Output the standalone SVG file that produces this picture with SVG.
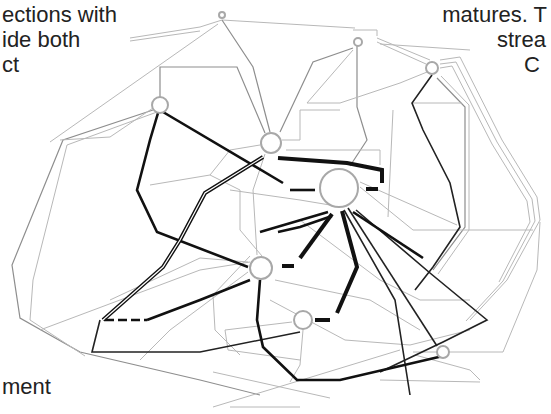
<svg xmlns="http://www.w3.org/2000/svg" width="551" height="414" viewBox="0 0 551 414">
<style>
.t{font-family:"Liberation Sans",Arial,sans-serif;font-size:22px;fill:#222}
.g{fill:none;stroke:#b8b8b8;stroke-width:1}
.m{fill:none;stroke:#8e8e8e;stroke-width:1.2}
.k{fill:none;stroke:#222;stroke-width:1.6}
.kb{fill:none;stroke:#111;stroke-width:2.6}
.kk{fill:none;stroke:#111;stroke-width:4}
.kw{fill:none;stroke:#fff;stroke-width:1.2}
.n{fill:#fff;stroke:#a8a8a8;stroke-width:2}
</style>
<rect width="551" height="414" fill="#fff"/>
<text class="t" x="2" y="22">ections with</text>
<text class="t" x="2" y="47">ide both</text>
<text class="t" x="2" y="72">ct</text>
<text class="t" x="547" y="22" text-anchor="end">matures. T</text>
<text class="t" x="497" y="47">strea</text>
<text class="t" x="524" y="72">C</text>
<text class="t" x="2" y="394">ment</text>
<g id="connectors">
<path class="g" d="M130,38 L200,27 L222,20 M130,41 L200,31"/>
<path class="g" d="M222,20 L355,28"/>
<path class="g" d="M218,24 L50,142"/>
<path class="m" d="M160,97 L160,67 L237,67 L265,133"/>
<path class="m" d="M222,20 L253,67 L270,132"/>
<path class="m" d="M353,48 L313,62 L280,132"/>
<path class="m" d="M357,45 L357,107 L367,140 L350,166"/>
<path class="g" d="M307,103 L340,103 L400,83 M307,103 L353,50"/>
<path class="g" d="M377,38 L430,60 M377,42 L426,64 M380,44 L470,50"/>
<path class="g" d="M377,36 L377,30 L353,30"/>
<path class="g" d="M440,60 L460,57 L502,140 L537,197 L540,220 L507,280 L470,320"/>
<path class="g" d="M440,64 L456,62 L497,142 L532,199 L535,221 L503,281 L466,321"/>
<path class="g" d="M440,68 L452,66 L492,144 L527,201 L530,222 L499,282"/>
<path class="m" d="M437,78 L465,107 L465,227 L433,270"/>
<path class="g" d="M441,76 L469,105 L469,230 L438,274"/>
<path class="g" d="M412,103 L462,103"/>
<path class="g" d="M360,182 L457,225 M360,187 L413,230 L533,230"/>
<path class="g" d="M393,110 L388,217"/>
<path class="g" d="M400,83 L432,70"/>
<path class="m" d="M153,110 L63,140 L12,265 L20,318 L80,352 L200,380 L260,395"/>
<path class="g" d="M157,112 L67,145 L33,280 L30,320 L85,356"/>
<path class="g" d="M60,140 L110,137 L153,108"/>
<path class="g" d="M40,330 L200,270 L250,262"/>
<path class="g" d="M110,300 L200,258 L248,262"/>
<path class="g" d="M260,145 L230,150 L210,175 L150,185"/>
<path class="g" d="M265,154 L253,190 L257,255"/>
<path class="g" d="M250,256 L213,295 L215,330 L240,355"/>
<path class="g" d="M248,272 L170,330 L140,360"/>
<path class="g" d="M213,407 L400,350 M213,372 L330,398 M230,407 L300,407"/>
<path class="g" d="M303,330 L300,365 L290,382"/>
<path class="g" d="M292,322 L225,330 L228,350 L300,360"/>
<path class="g" d="M300,220 L380,280 L420,300 L470,300"/>
<path class="g" d="M270,300 L345,340 L410,345 L470,330"/>
<path class="g" d="M413,352 L503,352 L537,270 L540,222"/>
<path class="g" d="M380,380 L480,382 M415,355 L470,370 L480,380"/>
<path class="g" d="M262,256 L240,230 L240,190 L210,175"/>
<path class="g" d="M282,140 L300,140 L300,110 L340,110"/>
<path class="g" d="M286,150 L380,150 L380,165"/>
<path class="g" d="M230,190 L300,200 L330,205"/>
<path class="g" d="M275,280 L370,300 L420,330"/>
<path class="k" d="M432,75 L412,103 L423,130 L450,183 L460,227 L433,267 L415,290"/>
<path class="k" d="M348,208 L437,346"/>
<path class="k" d="M344,210 L395,300 L410,395"/>
<path class="k" d="M356,210 L430,273 L487,320 L443,342 L380,372"/>
<path class="kb" d="M353,212 L423,258"/>
<path class="kb" d="M163,112 L283,183"/>
<path class="kb" d="M290,190 L315,190"/>
<path class="kk" d="M278,158 L347,163 L382,170 L382,183"/>
<path class="kk" d="M366,189 L378,189"/>
<path class="kb" d="M158,113 L150,140 L137,190 L157,232 L248,267"/>
<path class="kk" d="M263,157 L205,193 L180,240 L163,267 L103,320"/>
<path class="kw" d="M263,157 L205,193 L180,240 L163,267 L103,320"/>
<path class="kb" d="M105,320 L147,320" stroke-dasharray="9,4"/>
<path class="kb" d="M250,280 L200,300 L147,320"/>
<path class="k" d="M100,320 L92,352 L200,352 L300,332"/>
<path class="kb" d="M260,280 L257,320 L263,347 L297,380 L340,380 L443,356"/>
<path class="kb" d="M328,212 L260,232"/>
<path class="kb" d="M332,216 L300,227 L278,232"/>
<path class="kk" d="M332,214 L300,258" stroke-width="5"/>
<path class="kk" d="M282,266 L294,266" stroke-width="5"/>
<path class="kk" d="M342,211 L357,267 L337,313"/>
<path class="kk" d="M315,320 L330,320"/>
</g>
<g id="nodeH"><circle class="n" cx="222" cy="15" r="3" stroke-width="1"/></g>
<g id="nodeG"><circle class="n" cx="358" cy="42" r="4" stroke-width="1"/></g>
<g id="nodeF"><circle class="n" cx="432" cy="68" r="6" stroke-width="1.5"/></g>
<g id="nodeA"><circle class="n" cx="160" cy="105" r="8"/></g>
<g id="nodeB"><circle class="n" cx="271" cy="143" r="10"/></g>
<g id="nodeC"><circle class="n" cx="339" cy="188" r="19" stroke-width="6"/></g>
<g id="nodeD"><circle class="n" cx="261" cy="268" r="11" stroke-width="2.5"/></g>
<g id="nodeE"><circle class="n" cx="303" cy="320" r="9"/></g>
<g id="nodeI"><circle class="n" cx="443" cy="352" r="6" stroke-width="1.5"/></g>
</svg>
